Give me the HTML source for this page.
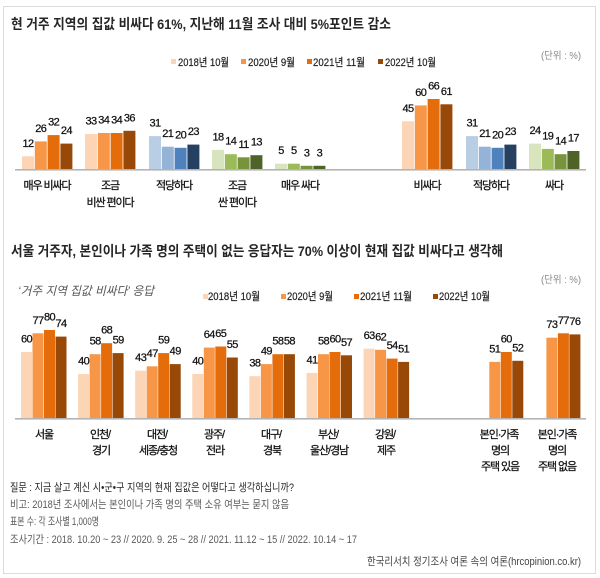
<!DOCTYPE html>
<html lang="ko">
<head>
<meta charset="utf-8">
<style>
  html,body{margin:0;padding:0;background:#fff;}
  svg{display:block;}
  text{font-family:"Liberation Sans","Noto Sans CJK KR",sans-serif;}
  .ttl{font-size:14px;font-weight:bold;fill:#262626;}
  .v{font-size:11px;fill:#111;text-anchor:middle;letter-spacing:-0.6px;stroke:#111;stroke-width:0.25px;}
  .c{font-size:11px;fill:#111;text-anchor:middle;letter-spacing:-1.1px;stroke:#111;stroke-width:0.25px;}
  .lg{font-size:11px;fill:#222;stroke:#222;stroke-width:0.2px;}
  .unit{font-size:10px;fill:#888;}
  .ft{font-size:11px;fill:#595959;}
</style>
</head>
<body>
<svg width="600" height="578" viewBox="0 0 600 578" xmlns="http://www.w3.org/2000/svg">
  <rect x="0" y="0" width="600" height="578" fill="#fff"/>
  <rect x="3.5" y="6.5" width="592" height="567" fill="none" stroke="#dcdcdc" stroke-width="1"/>

  <!-- ===== TOP CHART ===== -->
  <text class="ttl" x="11" y="29" textLength="380" lengthAdjust="spacingAndGlyphs">현 거주 지역의 집값 비싸다 61%, 지난해 11월 조사 대비 5%포인트 감소</text>
  <text class="unit" x="541" y="59" textLength="40" lengthAdjust="spacingAndGlyphs">(단위 : %)</text>

  <!-- legend 1 -->
  <rect x="171" y="59" width="5" height="5" fill="#FBD5B5"/>
  <text class="lg" x="178" y="66" textLength="51" lengthAdjust="spacingAndGlyphs">2018년 10월</text>
  <rect x="241" y="59" width="5" height="5" fill="#F79646"/>
  <text class="lg" x="248" y="66" textLength="47" lengthAdjust="spacingAndGlyphs">2020년 9월</text>
  <rect x="307" y="59" width="5" height="5" fill="#E46C0A"/>
  <text class="lg" x="313" y="66" textLength="52" lengthAdjust="spacingAndGlyphs">2021년 11월</text>
  <rect x="378" y="59" width="5" height="5" fill="#984807"/>
  <text class="lg" x="385" y="66" textLength="51" lengthAdjust="spacingAndGlyphs">2022년 10월</text>

  <!-- bars top -->
  <g>
    <rect x="22" y="156.3" width="12" height="12.7" fill="#FBD5B5"/>
    <rect x="34.8" y="141.4" width="12" height="27.6" fill="#F79646"/>
    <rect x="47.6" y="135.1" width="12" height="33.9" fill="#E46C0A"/>
    <rect x="60.4" y="143.6" width="12" height="25.4" fill="#984807"/>

    <rect x="85" y="134" width="12" height="35" fill="#FBD5B5"/>
    <rect x="97.8" y="133" width="12" height="36" fill="#F79646"/>
    <rect x="110.6" y="133" width="12" height="36" fill="#E46C0A"/>
    <rect x="123.4" y="130.8" width="12" height="38.2" fill="#984807"/>

    <rect x="149" y="136.1" width="12" height="32.9" fill="#B9CDE5"/>
    <rect x="161.8" y="146.7" width="12" height="22.3" fill="#95B3D7"/>
    <rect x="174.6" y="147.8" width="12" height="21.2" fill="#4F81BD"/>
    <rect x="187.4" y="144.6" width="12" height="24.4" fill="#254061"/>

    <rect x="212" y="149.9" width="12" height="19.1" fill="#D7E4BD"/>
    <rect x="224.8" y="154.2" width="12" height="14.8" fill="#9BBB59"/>
    <rect x="237.6" y="157.3" width="12" height="11.7" fill="#77933C"/>
    <rect x="250.4" y="155.2" width="12" height="13.8" fill="#4F6228"/>

    <rect x="275" y="163.7" width="12" height="5.3" fill="#D7E4BD"/>
    <rect x="287.8" y="163.7" width="12" height="5.3" fill="#9BBB59"/>
    <rect x="300.6" y="165.8" width="12" height="3.2" fill="#77933C"/>
    <rect x="313.4" y="165.8" width="12" height="3.2" fill="#4F6228"/>

    <rect x="402" y="121.3" width="12" height="47.7" fill="#FBD5B5"/>
    <rect x="414.8" y="105.4" width="12" height="63.6" fill="#F79646"/>
    <rect x="427.6" y="99" width="12" height="70" fill="#E46C0A"/>
    <rect x="440.4" y="104.3" width="12" height="64.7" fill="#984807"/>

    <rect x="466" y="136.1" width="12" height="32.9" fill="#B9CDE5"/>
    <rect x="478.8" y="146.7" width="12" height="22.3" fill="#95B3D7"/>
    <rect x="491.6" y="147.8" width="12" height="21.2" fill="#4F81BD"/>
    <rect x="504.4" y="144.6" width="12" height="24.4" fill="#254061"/>

    <rect x="529" y="143.6" width="12" height="25.4" fill="#D7E4BD"/>
    <rect x="541.8" y="148.9" width="12" height="20.1" fill="#9BBB59"/>
    <rect x="554.6" y="154.2" width="12" height="14.8" fill="#77933C"/>
    <rect x="567.4" y="151" width="12" height="18" fill="#4F6228"/>
  </g>
  <rect x="15" y="169" width="571" height="1.6" fill="#b3b3b3"/>

  <!-- value labels top -->
  <g>
    <text class="v" x="28" y="146.8">12</text>
    <text class="v" x="40.8" y="131.9">26</text>
    <text class="v" x="53.6" y="125.6">32</text>
    <text class="v" x="66.4" y="134.1">24</text>

    <text class="v" x="91" y="124.5">33</text>
    <text class="v" x="103.8" y="123.5">34</text>
    <text class="v" x="116.6" y="123.5">34</text>
    <text class="v" x="129.4" y="121.3">36</text>

    <text class="v" x="155" y="126.6">31</text>
    <text class="v" x="167.8" y="137.2">21</text>
    <text class="v" x="180.6" y="138.3">20</text>
    <text class="v" x="193.4" y="135.1">23</text>

    <text class="v" x="218" y="140.4">18</text>
    <text class="v" x="230.8" y="144.7">14</text>
    <text class="v" x="243.6" y="147.8">11</text>
    <text class="v" x="256.4" y="145.7">13</text>

    <text class="v" x="281" y="154.2">5</text>
    <text class="v" x="293.8" y="154.2">5</text>
    <text class="v" x="306.6" y="156.3">3</text>
    <text class="v" x="319.4" y="156.3">3</text>

    <text class="v" x="408" y="111.8">45</text>
    <text class="v" x="420.8" y="95.9">60</text>
    <text class="v" x="433.6" y="89.5">66</text>
    <text class="v" x="446.4" y="94.8">61</text>

    <text class="v" x="472" y="126.6">31</text>
    <text class="v" x="484.8" y="137.2">21</text>
    <text class="v" x="497.6" y="138.3">20</text>
    <text class="v" x="510.4" y="135.1">23</text>

    <text class="v" x="535" y="134.1">24</text>
    <text class="v" x="547.8" y="139.4">19</text>
    <text class="v" x="560.6" y="144.7">14</text>
    <text class="v" x="573.4" y="141.5">17</text>
  </g>

  <!-- category labels top -->
  <g>
    <text class="c" x="47" y="189">매우 비싸다</text>
    <text class="c" x="110" y="189">조금</text>
    <text class="c" x="110" y="206">비싼 편이다</text>
    <text class="c" x="174" y="189">적당하다</text>
    <text class="c" x="237" y="189">조금</text>
    <text class="c" x="237" y="206">싼 편이다</text>
    <text class="c" x="300" y="189">매우 싸다</text>
    <text class="c" x="427" y="189">비싸다</text>
    <text class="c" x="491" y="189">적당하다</text>
    <text class="c" x="554" y="189">싸다</text>
  </g>

  <!-- ===== BOTTOM CHART ===== -->
  <text class="ttl" x="11" y="256" textLength="492" lengthAdjust="spacingAndGlyphs">서울 거주자, 본인이나 가족 명의 주택이 없는 응답자는 70% 이상이 현재 집값 비싸다고 생각해</text>
  <text class="unit" x="541" y="283" textLength="40" lengthAdjust="spacingAndGlyphs">(단위 : %)</text>
  <text x="18" y="295" textLength="136" lengthAdjust="spacingAndGlyphs" style="font-size:12px;font-style:italic;fill:#555;">‘거주 지역 집값 비싸다’ 응답</text>

  <!-- legend 2 -->
  <rect x="203" y="294" width="5" height="5" fill="#FBD5B5"/>
  <text class="lg" x="208" y="300" textLength="52" lengthAdjust="spacingAndGlyphs">2018년 10월</text>
  <rect x="281" y="294" width="5" height="5" fill="#F79646"/>
  <text class="lg" x="287" y="300" textLength="46" lengthAdjust="spacingAndGlyphs">2020년 9월</text>
  <rect x="354" y="294" width="5" height="5" fill="#E46C0A"/>
  <text class="lg" x="360" y="300" textLength="52" lengthAdjust="spacingAndGlyphs">2021년 11월</text>
  <rect x="433" y="294" width="5" height="5" fill="#984807"/>
  <text class="lg" x="439" y="300" textLength="51" lengthAdjust="spacingAndGlyphs">2022년 10월</text>

  <!-- bars bottom -->
  <g>
    <rect x="21" y="352" width="11" height="66" fill="#FBD5B5"/>
    <rect x="32.5" y="333.3" width="11" height="84.7" fill="#F79646"/>
    <rect x="44" y="330" width="11" height="88" fill="#E46C0A"/>
    <rect x="55.5" y="336.6" width="11" height="81.4" fill="#984807"/>

    <rect x="78.1" y="374" width="11" height="44" fill="#FBD5B5"/>
    <rect x="89.6" y="354.2" width="11" height="63.8" fill="#F79646"/>
    <rect x="101.1" y="343.2" width="11" height="74.8" fill="#E46C0A"/>
    <rect x="112.6" y="353.1" width="11" height="64.9" fill="#984807"/>

    <rect x="135.2" y="370.7" width="11" height="47.3" fill="#FBD5B5"/>
    <rect x="146.7" y="366.3" width="11" height="51.7" fill="#F79646"/>
    <rect x="158.2" y="353.1" width="11" height="64.9" fill="#E46C0A"/>
    <rect x="169.7" y="364.1" width="11" height="53.9" fill="#984807"/>

    <rect x="192.3" y="374" width="11" height="44" fill="#FBD5B5"/>
    <rect x="203.8" y="347.6" width="11" height="70.4" fill="#F79646"/>
    <rect x="215.3" y="346.5" width="11" height="71.5" fill="#E46C0A"/>
    <rect x="226.8" y="357.5" width="11" height="60.5" fill="#984807"/>

    <rect x="249.4" y="376.2" width="11" height="41.8" fill="#FBD5B5"/>
    <rect x="260.9" y="364.1" width="11" height="53.9" fill="#F79646"/>
    <rect x="272.4" y="354.2" width="11" height="63.8" fill="#E46C0A"/>
    <rect x="283.9" y="354.2" width="11" height="63.8" fill="#984807"/>

    <rect x="306.5" y="372.9" width="11" height="45.1" fill="#FBD5B5"/>
    <rect x="318" y="354.2" width="11" height="63.8" fill="#F79646"/>
    <rect x="329.5" y="352" width="11" height="66" fill="#E46C0A"/>
    <rect x="341" y="355.3" width="11" height="62.7" fill="#984807"/>

    <rect x="363.6" y="348.7" width="11" height="69.3" fill="#FBD5B5"/>
    <rect x="375.1" y="349.8" width="11" height="68.2" fill="#F79646"/>
    <rect x="386.6" y="358.6" width="11" height="59.4" fill="#E46C0A"/>
    <rect x="398.1" y="361.9" width="11" height="56.1" fill="#984807"/>

    <rect x="489.3" y="361.9" width="11" height="56.1" fill="#F79646"/>
    <rect x="500.8" y="352" width="11" height="66" fill="#E46C0A"/>
    <rect x="512.3" y="360.8" width="11" height="57.2" fill="#984807"/>

    <rect x="546.4" y="337.7" width="11" height="80.3" fill="#F79646"/>
    <rect x="557.9" y="333.3" width="11" height="84.7" fill="#E46C0A"/>
    <rect x="569.4" y="334.4" width="11" height="83.6" fill="#984807"/>
  </g>
  <rect x="15" y="418" width="571" height="1.6" fill="#b3b3b3"/>

  <!-- value labels bottom -->
  <g>
    <text class="v" x="26.5" y="342.5">60</text>
    <text class="v" x="38" y="323.8">77</text>
    <text class="v" x="49.5" y="320.5">80</text>
    <text class="v" x="61" y="327.1">74</text>

    <text class="v" x="83.6" y="364.5">40</text>
    <text class="v" x="95.1" y="344.7">58</text>
    <text class="v" x="106.6" y="333.7">68</text>
    <text class="v" x="118.1" y="343.6">59</text>

    <text class="v" x="140.7" y="361.2">43</text>
    <text class="v" x="152.2" y="356.8">47</text>
    <text class="v" x="163.7" y="343.6">59</text>
    <text class="v" x="175.2" y="354.6">49</text>

    <text class="v" x="197.8" y="364.5">40</text>
    <text class="v" x="209.3" y="338.1">64</text>
    <text class="v" x="220.8" y="337">65</text>
    <text class="v" x="232.3" y="348">55</text>

    <text class="v" x="254.9" y="366.7">38</text>
    <text class="v" x="266.4" y="354.6">49</text>
    <text class="v" x="277.9" y="344.7">58</text>
    <text class="v" x="289.4" y="344.7">58</text>

    <text class="v" x="312" y="363.4">41</text>
    <text class="v" x="323.5" y="344.7">58</text>
    <text class="v" x="335" y="342.5">60</text>
    <text class="v" x="346.5" y="345.8">57</text>

    <text class="v" x="369.1" y="339.2">63</text>
    <text class="v" x="380.6" y="340.3">62</text>
    <text class="v" x="392.1" y="349.1">54</text>
    <text class="v" x="403.6" y="352.4">51</text>

    <text class="v" x="494.8" y="352.4">51</text>
    <text class="v" x="506.3" y="342.5">60</text>
    <text class="v" x="517.8" y="351.3">52</text>

    <text class="v" x="551.9" y="328.2">73</text>
    <text class="v" x="563.4" y="323.8">77</text>
    <text class="v" x="574.9" y="324.9">76</text>
  </g>

  <!-- category labels bottom -->
  <g>
    <text class="c" x="44" y="438">서울</text>
    <text class="c" x="100" y="438">인천/</text>
    <text class="c" x="101" y="454">경기</text>
    <text class="c" x="157" y="438">대전/</text>
    <text class="c" x="158" y="454">세종/충청</text>
    <text class="c" x="214" y="438">광주/</text>
    <text class="c" x="215" y="454">전라</text>
    <text class="c" x="271" y="438">대구/</text>
    <text class="c" x="272" y="454">경북</text>
    <text class="c" x="328" y="438">부산/</text>
    <text class="c" x="329" y="454">울산/경남</text>
    <text class="c" x="385" y="438">강원/</text>
    <text class="c" x="386" y="454">제주</text>
    <text class="c" x="499" y="438">본인·가족</text>
    <text class="c" x="500" y="454">명의</text>
    <text class="c" x="500" y="470">주택 있음</text>
    <text class="c" x="557" y="438">본인·가족</text>
    <text class="c" x="557" y="454">명의</text>
    <text class="c" x="557" y="470">주택 없음</text>
  </g>

  <!-- footer -->
  <text class="ft" x="10" y="491" textLength="284" lengthAdjust="spacingAndGlyphs" style="fill:#262626;">질문 : 지금 살고 계신 시•군•구 지역의 현재 집값은 어떻다고 생각하십니까?</text>
  <text class="ft" x="10" y="508" textLength="279" lengthAdjust="spacingAndGlyphs">비고: 2018년 조사에서는 본인이나 가족 명의 주택 소유 여부는 묻지 않음</text>
  <text class="ft" x="10" y="525" textLength="89" lengthAdjust="spacingAndGlyphs">표본 수: 각 조사별 1,000명</text>
  <text class="ft" x="10" y="543" textLength="347" lengthAdjust="spacingAndGlyphs">조사기간 : 2018. 10.20 ~ 23 // 2020. 9. 25 ~ 28 // 2021. 11.12 ~ 15 // 2022. 10.14 ~ 17</text>
  <text class="ft" x="367" y="565" textLength="214" lengthAdjust="spacingAndGlyphs" style="fill:#444;">한국리서치 정기조사 여론 속의 여론(hrcopinion.co.kr)</text>
</svg>
</body>
</html>
